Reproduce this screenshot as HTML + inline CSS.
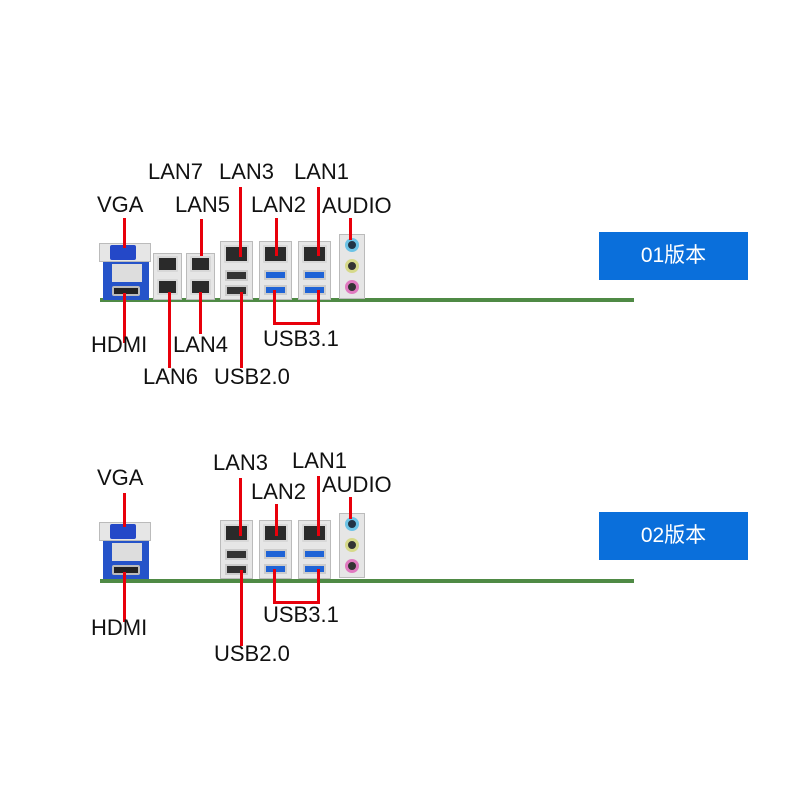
<!DOCTYPE html>
<html><head><meta charset="utf-8"><style>
*{margin:0;padding:0;box-sizing:border-box}
body{width:800px;height:800px;background:#fff;position:relative;overflow:hidden;font-family:"Liberation Sans","Noto Sans CJK SC",sans-serif}
.a{position:absolute}
.t{position:absolute;font-size:22px;color:#111;line-height:1;white-space:nowrap;margin-top:-1px}
.r{position:absolute;background:#e8000b}
.g{position:absolute;height:4px;background:#4f8a45}
.plate{position:absolute;background:#e6e6e6;border:1px solid #bbb}
.rj{position:absolute;background:#2a2a2a;border:2px solid #d8d8d8;border-radius:1px}
.usb2{position:absolute;background:#333;border:2px solid #ccc}
.usb3{position:absolute;background:#1f63d6;border:2px solid #ccc}
.jack{position:absolute;width:14px;height:14px;border-radius:50%;border:3px solid}
.btn{position:absolute;left:599px;width:149px;height:48px;background:#0a6fdb;color:#fff;font-size:21px;text-align:center;line-height:48px}
</style></head><body>

<!-- ===== TOP ===== -->
<div class="g" style="left:100px;top:298px;width:534px"></div>
<div class="a" style="left:103px;top:258px;width:46px;height:42px;background:#2553c9"></div>
<div class="a" style="left:112px;top:264px;width:30px;height:18px;background:#ddd"></div>
<div class="plate" style="left:99px;top:243px;width:52px;height:19px"></div>
<div class="a" style="left:110px;top:245px;width:26px;height:15px;background:#2448c8;border-radius:2px"></div>
<div class="a" style="left:112px;top:286px;width:28px;height:10px;background:#222;border:2px solid #bbb;border-radius:2px"></div>
<div class="plate" style="left:153px;top:253px;width:29px;height:47px"></div>
<div class="rj" style="left:157px;top:256px;width:21px;height:16px"></div>
<div class="rj" style="left:157px;top:279px;width:21px;height:16px"></div>
<div class="plate" style="left:186px;top:253px;width:29px;height:47px"></div>
<div class="rj" style="left:190px;top:256px;width:21px;height:16px"></div>
<div class="rj" style="left:190px;top:279px;width:21px;height:16px"></div>
<div class="plate" style="left:220px;top:241px;width:33px;height:59px"></div>
<div class="rj" style="left:224px;top:245px;width:25px;height:18px"></div>
<div class="usb2" style="left:225px;top:270px;width:23px;height:11px"></div>
<div class="usb2" style="left:225px;top:285px;width:23px;height:11px"></div>
<div class="plate" style="left:259px;top:241px;width:33px;height:59px"></div>
<div class="rj" style="left:263px;top:245px;width:25px;height:18px"></div>
<div class="usb3" style="left:264px;top:270px;width:23px;height:10px"></div>
<div class="usb3" style="left:264px;top:285px;width:23px;height:10px"></div>
<div class="plate" style="left:298px;top:241px;width:33px;height:59px"></div>
<div class="rj" style="left:302px;top:245px;width:25px;height:18px"></div>
<div class="usb3" style="left:303px;top:270px;width:23px;height:10px"></div>
<div class="usb3" style="left:303px;top:285px;width:23px;height:10px"></div>
<div class="plate" style="left:339px;top:234px;width:26px;height:65px"></div>
<div class="jack" style="left:345px;top:238px;border-color:#6cc3e6;background:#234"></div>
<div class="jack" style="left:345px;top:259px;border-color:#d6d98a;background:#333"></div>
<div class="jack" style="left:345px;top:280px;border-color:#e07ac0;background:#333"></div>
<div class="r" style="left:123px;top:218px;width:3px;height:30px"></div>
<div class="r" style="left:123px;top:293px;width:3px;height:50px"></div>
<div class="r" style="left:200px;top:219px;width:3px;height:37px"></div>
<div class="r" style="left:239px;top:187px;width:3px;height:70px"></div>
<div class="r" style="left:275px;top:218px;width:3px;height:38px"></div>
<div class="r" style="left:317px;top:187px;width:3px;height:69px"></div>
<div class="r" style="left:349px;top:218px;width:3px;height:22px"></div>
<div class="r" style="left:168px;top:292px;width:3px;height:76px"></div>
<div class="r" style="left:199px;top:292px;width:3px;height:42px"></div>
<div class="r" style="left:240px;top:292px;width:3px;height:76px"></div>
<div class="r" style="left:273px;top:290px;width:3px;height:35px"></div>
<div class="r" style="left:317px;top:290px;width:3px;height:35px"></div>
<div class="r" style="left:273px;top:322px;width:47px;height:3px"></div>
<div class="t" style="left:148px;top:162px">LAN7</div>
<div class="t" style="left:219px;top:162px">LAN3</div>
<div class="t" style="left:294px;top:162px">LAN1</div>
<div class="t" style="left:97px;top:195px">VGA</div>
<div class="t" style="left:175px;top:195px">LAN5</div>
<div class="t" style="left:251px;top:195px">LAN2</div>
<div class="t" style="left:322px;top:196px">AUDIO</div>
<div class="t" style="left:91px;top:335px">HDMI</div>
<div class="t" style="left:173px;top:335px">LAN4</div>
<div class="t" style="left:263px;top:329px">USB3.1</div>
<div class="t" style="left:143px;top:367px">LAN6</div>
<div class="t" style="left:214px;top:367px">USB2.0</div>
<div class="btn" style="top:232px">01版本</div>

<!-- ===== BOTTOM ===== -->
<div class="g" style="left:100px;top:579px;width:534px"></div>
<div class="a" style="left:103px;top:537px;width:46px;height:42px;background:#2553c9"></div>
<div class="a" style="left:112px;top:543px;width:30px;height:18px;background:#ddd"></div>
<div class="plate" style="left:99px;top:522px;width:52px;height:19px"></div>
<div class="a" style="left:110px;top:524px;width:26px;height:15px;background:#2448c8;border-radius:2px"></div>
<div class="a" style="left:112px;top:565px;width:28px;height:10px;background:#222;border:2px solid #bbb;border-radius:2px"></div>
<div class="plate" style="left:220px;top:520px;width:33px;height:59px"></div>
<div class="rj" style="left:224px;top:524px;width:25px;height:18px"></div>
<div class="usb2" style="left:225px;top:549px;width:23px;height:11px"></div>
<div class="usb2" style="left:225px;top:564px;width:23px;height:11px"></div>
<div class="plate" style="left:259px;top:520px;width:33px;height:59px"></div>
<div class="rj" style="left:263px;top:524px;width:25px;height:18px"></div>
<div class="usb3" style="left:264px;top:549px;width:23px;height:10px"></div>
<div class="usb3" style="left:264px;top:564px;width:23px;height:10px"></div>
<div class="plate" style="left:298px;top:520px;width:33px;height:59px"></div>
<div class="rj" style="left:302px;top:524px;width:25px;height:18px"></div>
<div class="usb3" style="left:303px;top:549px;width:23px;height:10px"></div>
<div class="usb3" style="left:303px;top:564px;width:23px;height:10px"></div>
<div class="plate" style="left:339px;top:513px;width:26px;height:65px"></div>
<div class="jack" style="left:345px;top:517px;border-color:#6cc3e6;background:#234"></div>
<div class="jack" style="left:345px;top:538px;border-color:#d6d98a;background:#333"></div>
<div class="jack" style="left:345px;top:559px;border-color:#e07ac0;background:#333"></div>
<div class="r" style="left:123px;top:493px;width:3px;height:34px"></div>
<div class="r" style="left:123px;top:572px;width:3px;height:50px"></div>
<div class="r" style="left:239px;top:478px;width:3px;height:58px"></div>
<div class="r" style="left:275px;top:504px;width:3px;height:32px"></div>
<div class="r" style="left:317px;top:476px;width:3px;height:60px"></div>
<div class="r" style="left:349px;top:497px;width:3px;height:22px"></div>
<div class="r" style="left:240px;top:570px;width:3px;height:76px"></div>
<div class="r" style="left:273px;top:569px;width:3px;height:35px"></div>
<div class="r" style="left:317px;top:569px;width:3px;height:35px"></div>
<div class="r" style="left:273px;top:601px;width:47px;height:3px"></div>
<div class="t" style="left:213px;top:453px">LAN3</div>
<div class="t" style="left:292px;top:451px">LAN1</div>
<div class="t" style="left:251px;top:482px">LAN2</div>
<div class="t" style="left:322px;top:475px">AUDIO</div>
<div class="t" style="left:97px;top:468px">VGA</div>
<div class="t" style="left:91px;top:618px">HDMI</div>
<div class="t" style="left:263px;top:605px">USB3.1</div>
<div class="t" style="left:214px;top:644px">USB2.0</div>
<div class="btn" style="top:512px">02版本</div>
</body></html>
